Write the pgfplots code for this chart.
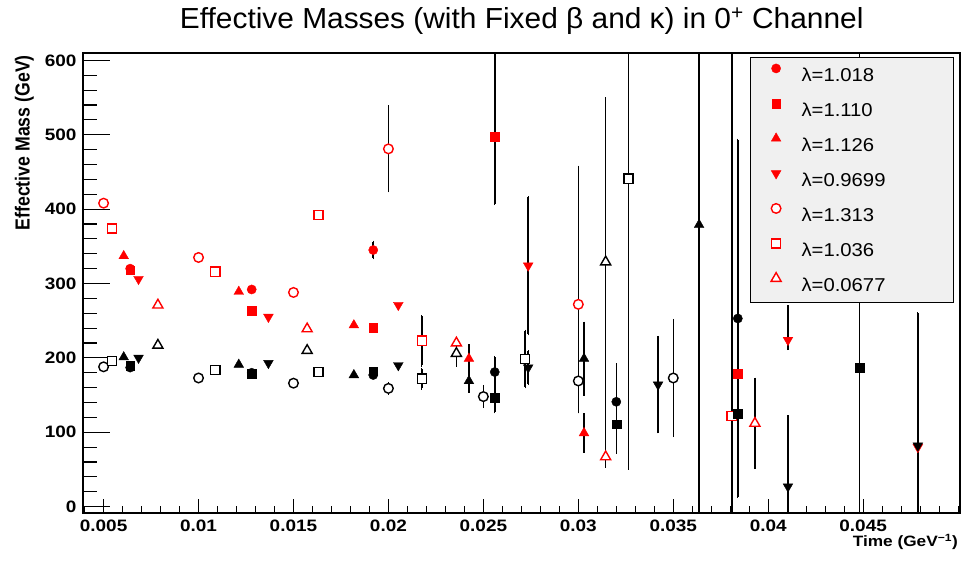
\documentclass[border=0pt]{standalone}
\usepackage{fontspec}
\setmainfont{Liberation Sans}
\newfontfamily\tickfont[FakeStretch=1.15]{Liberation Sans}
\newfontfamily\legfont[FakeStretch=1.09]{Liberation Sans}
\newfontfamily\titlefont[FakeStretch=1.03]{Liberation Sans}
\usepackage{pgfplots}
\pgfplotsset{compat=1.18}
\usepackage{pgfplotstable}
\definecolor{legendgray}{RGB}{240,240,240}
\definecolor{rootred}{RGB}{255,0,0}

% lambda = 1.018 (filled circle)
\pgfplotstableread{
x y ep em
0.0064 320 0 0
0.0128 292 0 0
0.0192 345 11 11
}\rcirc
\pgfplotstableread{
x y ep em
0.0064 187 0 0
0.0128 180 0 0
0.0192 177 4 4
0.0256 181 20 20
0.0320 141 50 50
0.0384 253 240 240
}\bcirc
% lambda = 1.110 (filled square)
\pgfplotstableread{
x y ep em
0.0064 318 0 0
0.0128 263 0 0
0.0192 241 0 0
0.0256 497 200 90
0.0384 179 0 0
}\rsq
\pgfplotstableread{
x y ep em
0.0064 190 0 0
0.0128 179 0 0
0.0192 182 4 4
0.0256 146 19 19
0.0320 111 38 38
0.0384 125 0 0
0.0448 187 500 500
}\bsq
% lambda = 1.126 (filled triangle)
\pgfplotstableread{
x y ep em
0.00606 337 0 0
0.01212 289 0 0
0.01818 244 0 0
0.02424 199 18 18
0.0303 99 25 25
}\rtri
\pgfplotstableread{
x y ep em
0.00606 201 0 0
0.01212 191 0 0
0.01818 177 0 0
0.02424 169 14 14
0.0303 199 48 48
0.03636 379 500 500
}\btri
% lambda = 0.9699 (down triangle)
\pgfplotstableread{
x y ep em
0.00684 306 0 0
0.01368 255 0 0
0.02052 271 0 0
0.02736 324 92 92
0.04104 224 45 12
0.04788 80 180 180
}\rdtri
\pgfplotstableread{
x y ep em
0.00684 200 0 0
0.01368 193 0 0
0.02052 190 0 0
0.02736 187 22 22
0.0342 164 64 64
0.04104 27 94 94
0.04788 82 143 143
}\bdtri
% lambda = 1.313 (open circle)
\pgfplotstableread{
x y ep em
0.005 408 0 0
0.010 335 0 0
0.015 288 0 0
0.020 481 57 57
0.030 272 185 145
}\rocirc
\pgfplotstableread{
x y ep em
0.005 188 0 0
0.010 173 0 0
0.015 166 0 0
0.020 159 7 7
0.025 148 14 14
0.030 169 42 42
0.035 173 78 78
}\bocirc
% lambda = 1.036 (open square)
\pgfplotstableread{
x y ep em
0.00544 374 0 0
0.01088 316 0 0
0.01632 392 5 5
0.02176 223 33 33
0.03808 122 500 500
}\rosq
\pgfplotstableread{
x y ep em
0.00544 196 0 0
0.01088 184 0 0
0.01632 181 0 0
0.02176 172 13 13
0.0272 198.5 38 38
0.03264 441 300 390
}\bosq
% lambda = 0.0677 (open triangle)
\pgfplotstableread{
x y ep em
0.00786 271 0 0
0.01572 239 0 0
0.02358 220 7 7
0.03144 67 13 13
0.0393 112 60 60
}\rotri
\pgfplotstableread{
x y ep em
0.00786 217 0 0
0.01572 210 0 0
0.02358 206 16 16
0.03144 329 220 275
}\botri

\pgfplotsset{
  pts/.style={only marks, forget plot,
    error bars/y dir=both, error bars/y explicit,
    error bars/error bar style={black, line width=1.5bp},
    error bars/error mark=-,
    error bars/error mark options={black, mark size=1.2bp, line width=1.2bp}},
  filled/.style={mark options={draw=#1, fill=#1, line width=0.4bp, solid}},
  dfilled/.style={mark options={draw=#1, fill=#1, line width=0.4bp, solid, rotate=180}},
  hollow/.style={mark options={draw=#1, fill=white, line width=1.4bp, solid}},
}

\begin{document}
\begin{tikzpicture}
\path[use as bounding box] (0,0) rectangle (964bp,563bp);
\begin{axis}[
  at={(82.7bp,50bp)}, anchor=south west,
  scale only axis, width=877.3bp, height=459.7bp,
  xmin=0.0039, xmax=0.0501, ymin=-8.5, ymax=609.5,
  xtick={0.005,0.010,0.015,0.020,0.025,0.030,0.035,0.040,0.045},
  xticklabels={0.005,0.01,0.015,0.02,0.025,0.03,0.035,0.04,0.045},
  minor xtick={0.004,0.006,0.007,0.008,0.009,0.011,0.012,0.013,0.014,0.016,0.017,0.018,0.019,0.021,0.022,0.023,0.024,0.026,0.027,0.028,0.029,0.031,0.032,0.033,0.034,0.036,0.037,0.038,0.039,0.041,0.042,0.043,0.044,0.046,0.047,0.048,0.049,0.050},
  scaled x ticks=false,
  ytick={0,100,200,300,400,500,600},
  minor ytick={20,40,60,80,120,140,160,180,220,240,260,280,320,340,360,380,420,440,460,480,520,540,560,580,600},
  tick pos=left, tick align=inside,
  major tick length=14bp, minor tick length=7bp,
  major y tick style={/pgfplots/major tick length=27bp},
  minor y tick style={/pgfplots/minor tick length=14bp},
  every tick/.style={black, line width=1.1bp},
  axis line style={line width=1.8bp},
  /pgf/number format/assume math mode=true,
  ticklabel style={font=\tickfont\fontsize{16.5bp}{18bp}\selectfont\bfseries},
  yticklabel style={anchor=east, inner sep=0pt, xshift=-6bp},
  xticklabel style={anchor=north, inner sep=0pt, yshift=-6.5bp},
  legend image code/.code={\path (0bp,0bp) (50bp,0bp); \draw[#1] plot coordinates {(25bp,6.8bp)};},
  legend style={at={(axis description cs:1,1)}, anchor=north east,
    xshift=-6bp, yshift=-4bp, draw=black, line width=0.9bp, fill=legendgray,
    inner sep=0pt, row sep=0pt, column sep=0pt,
    font=\legfont\fontsize{18.6bp}{22bp}\selectfont,
    nodes={inner sep=0pt, minimum height=35bp, text width=152bp}},
  legend cell align=left,
]
\addplot[pts, mark=*, filled=rootred, mark size=4.6bp] table[x=x,y=y,y error plus=ep,y error minus=em] {\rcirc};
\addplot[pts, mark=square*, filled=rootred, mark size=4.4bp] table[x=x,y=y,y error plus=ep,y error minus=em] {\rsq};
\addplot[pts, mark=triangle*, filled=rootred, mark size=5.6bp] table[x=x,y=y,y error plus=ep,y error minus=em] {\rtri};
\addplot[pts, mark=triangle*, dfilled=rootred, mark size=5.6bp] table[x=x,y=y,y error plus=ep,y error minus=em] {\rdtri};
\addplot[pts, mark=*, hollow=rootred, mark size=4.8bp] table[x=x,y=y,y error plus=ep,y error minus=em] {\rocirc};
\addplot[pts, mark=square*, hollow=rootred, mark size=4.6bp] table[x=x,y=y,y error plus=ep,y error minus=em] {\rosq};
\addplot[pts, mark=triangle*, hollow=rootred, mark size=5.8bp] table[x=x,y=y,y error plus=ep,y error minus=em] {\rotri};

\addplot[pts, mark=*, filled=black, mark size=4.6bp] table[x=x,y=y,y error plus=ep,y error minus=em] {\bcirc};
\addplot[pts, mark=square*, filled=black, mark size=4.4bp] table[x=x,y=y,y error plus=ep,y error minus=em] {\bsq};
\addplot[pts, mark=triangle*, filled=black, mark size=5.6bp] table[x=x,y=y,y error plus=ep,y error minus=em] {\btri};
\addplot[pts, mark=triangle*, dfilled=black, mark size=5.6bp] table[x=x,y=y,y error plus=ep,y error minus=em] {\bdtri};
\addplot[pts, mark=*, hollow=black, mark size=4.8bp] table[x=x,y=y,y error plus=ep,y error minus=em] {\bocirc};
\addplot[pts, mark=square*, hollow=black, mark size=4.6bp] table[x=x,y=y,y error plus=ep,y error minus=em] {\bosq};
\addplot[pts, mark=triangle*, hollow=black, mark size=5.8bp] table[x=x,y=y,y error plus=ep,y error minus=em] {\botri};

\addlegendimage{only marks, mark=*, mark size=4.6bp, filled=rootred}
\addlegendentry{λ=1.018}
\addlegendimage{only marks, mark=square*, mark size=4.4bp, filled=rootred}
\addlegendentry{λ=1.110}
\addlegendimage{only marks, mark=triangle*, mark size=5.6bp, filled=rootred}
\addlegendentry{λ=1.126}
\addlegendimage{only marks, mark=triangle*, mark size=5.6bp, dfilled=rootred}
\addlegendentry{λ=0.9699}
\addlegendimage{only marks, mark=*, mark size=4.8bp, hollow=rootred}
\addlegendentry{λ=1.313}
\addlegendimage{only marks, mark=square*, mark size=4.6bp, hollow=rootred}
\addlegendentry{λ=1.036}
\addlegendimage{only marks, mark=triangle*, mark size=5.8bp, hollow=rootred}
\addlegendentry{λ=0.0677}
\end{axis}
\node[anchor=base, font=\titlefont\fontsize{29bp}{32bp}\selectfont, inner sep=0pt] at (521.7bp,534.7bp)
  {Effective Masses (with Fixed β and κ) in 0\textsuperscript{+} Channel};
\node[rotate=90, anchor=base east, font=\fontsize{17.7bp}{20bp}\selectfont\bfseries, inner sep=0pt]
  at (29.5bp,508bp) {\scalebox{1}[1.15]{Effective Mass (GeV)}};
\node[anchor=base east, font=\tickfont\fontsize{15bp}{18bp}\selectfont\bfseries, inner sep=0pt]
  at (958bp,16.5bp) {Time (GeV\textsuperscript{−1})};
\end{tikzpicture}
\end{document}
